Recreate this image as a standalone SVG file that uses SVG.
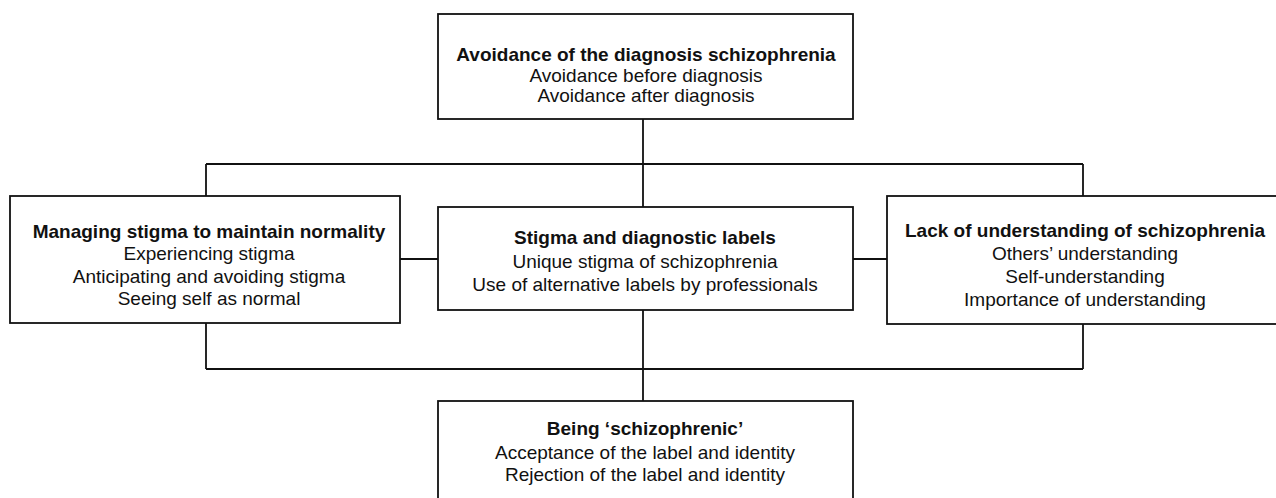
<svg xmlns="http://www.w3.org/2000/svg" width="1276" height="498" viewBox="0 0 1276 498">
<style>
.box{fill:#fff;stroke:#111;stroke-width:1.8}
.ln{fill:none;stroke:#111;stroke-width:1.8}
text{font-family:"Liberation Sans",Arial,sans-serif;font-size:19px;fill:#111;text-anchor:middle}
.b{font-weight:bold}
</style>
<rect width="1276" height="498" fill="#fff"/>
<g id="connectors">
<path class="ln" d="M643,119 V207 M206,164 H1083 M206,164 V196 M1083,164 V196 M400,259 H438 M853,259 H887 M643,310 V401 M206,369 H1083 M206,323 V369 M1083,324 V369"/>
</g>
<g id="top">
<rect class="box" x="438" y="14" width="415" height="105"/>
<text x="646" y="61" class="b">Avoidance of the diagnosis schizophrenia</text>
<text x="646" y="82">Avoidance before diagnosis</text>
<text x="646" y="102">Avoidance after diagnosis</text>
</g>
<g id="left">
<rect class="box" x="10" y="196" width="390" height="127"/>
<text x="209" y="238" class="b">Managing stigma to maintain normality</text>
<text x="209" y="260">Experiencing stigma</text>
<text x="209" y="283">Anticipating and avoiding stigma</text>
<text x="209" y="305">Seeing self as normal</text>
</g>
<g id="center">
<rect class="box" x="438" y="207" width="415" height="103"/>
<text x="645" y="244" class="b">Stigma and diagnostic labels</text>
<text x="645" y="268">Unique stigma of schizophrenia</text>
<text x="645" y="291">Use of alternative labels by professionals</text>
</g>
<g id="right">
<rect class="box" x="887" y="196" width="396" height="128"/>
<text x="1085" y="237" class="b">Lack of understanding of schizophrenia</text>
<text x="1085" y="260">Others’ understanding</text>
<text x="1085" y="283">Self-understanding</text>
<text x="1085" y="306">Importance of understanding</text>
</g>
<g id="bottom">
<rect class="box" x="438" y="401" width="415" height="110"/>
<text x="645" y="435" class="b">Being ‘schizophrenic’</text>
<text x="645" y="459">Acceptance of the label and identity</text>
<text x="645" y="481">Rejection of the label and identity</text>
</g>
</svg>
